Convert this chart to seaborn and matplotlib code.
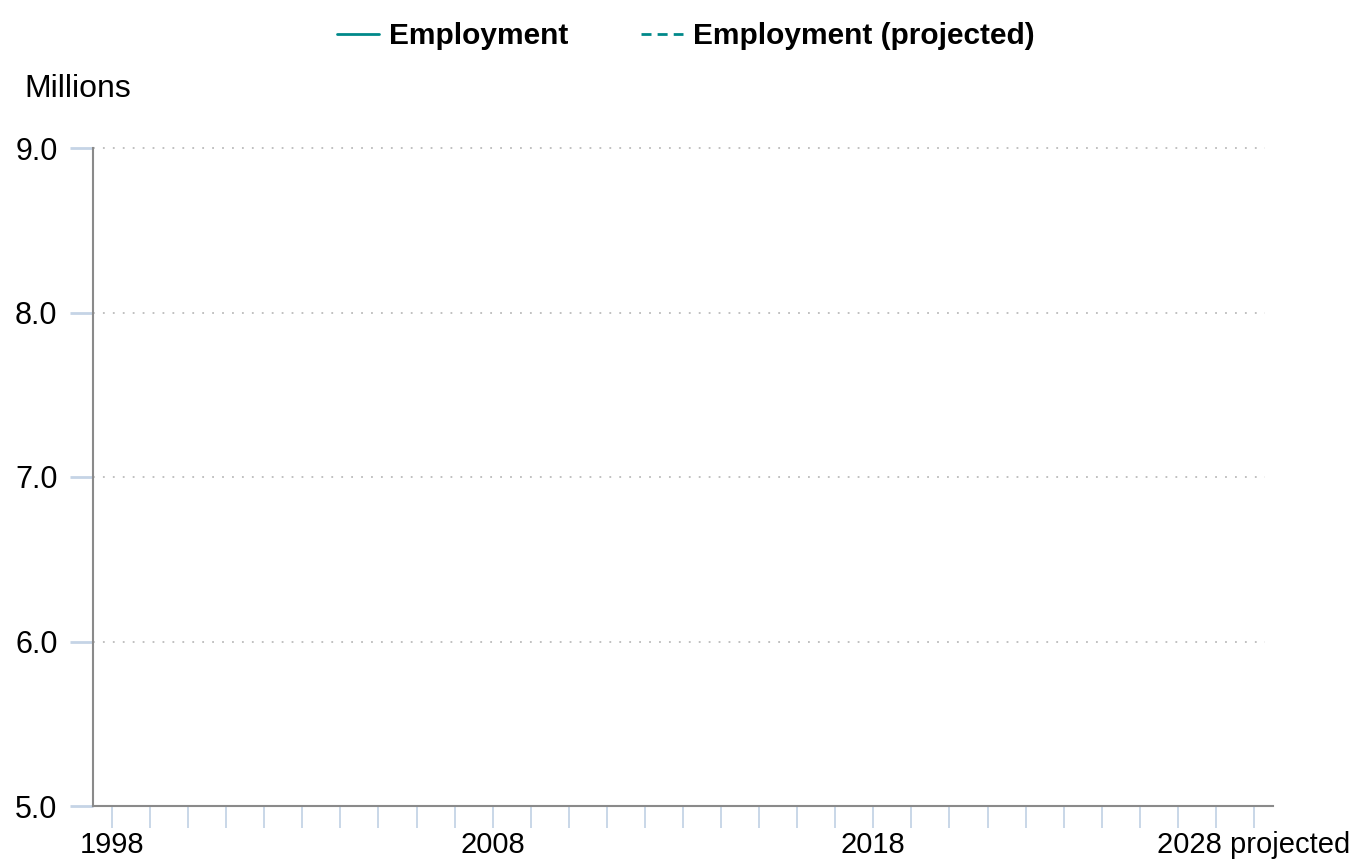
import numpy as np
import pandas as pd
import matplotlib
matplotlib.use("Agg")
import matplotlib.pyplot as plt
from matplotlib.lines import Line2D
import seaborn as sns

# ---- data (no values are visible in the source chart) ----
hist_years = [1998, 2008, 2018]
hist_employment = [np.nan, np.nan, np.nan]
proj_years = [2018, 2028]
proj_employment = [np.nan, np.nan]

tick_years = list(range(1998, 2029))
label_years = {1998: "1998", 2008: "2008", 2018: "2018", 2028: "2028 projected"}
y_ticks = [5.0, 6.0, 7.0, 8.0, 9.0]

TEAL = "#00898a"
TICK_BLUE = "#c5d4e6"
SPINE = "#8a8a8a"
DASH = (0, (3.6, 2.2))

sns.set_style("white")
plt.rcParams["font.family"] = ["Liberation Sans", "DejaVu Sans"]
plt.rcParams["text.color"] = "black"
plt.rcParams["xtick.labelcolor"] = "black"
plt.rcParams["ytick.labelcolor"] = "black"

fig = plt.figure(figsize=(13.5, 8.59), dpi=100)
ax = fig.add_axes([93 / 1350, 1 - 806 / 859, (1273 - 93) / 1350, (806 - 148) / 859])

df_hist = pd.DataFrame({"year": hist_years, "value": hist_employment})
df_proj = pd.DataFrame({"year": proj_years, "value": proj_employment})
sns.lineplot(data=df_hist, x="year", y="value", ax=ax, color=TEAL, linewidth=2.5)
sns.lineplot(data=df_proj, x="year", y="value", ax=ax, color=TEAL, linewidth=2.5,
             linestyle=DASH)

ax.set_xlim(1997.5, 2028.5)
ax.set_ylim(5.0, 9.0)
ax.set_xlabel("")
ax.set_ylabel("")

ax.set_xticks(tick_years)
ax.set_xticklabels([label_years.get(y, "") for y in tick_years], fontsize=21)
ax.set_yticks(y_ticks)
ax.set_yticklabels([f"{v:.1f}" for v in y_ticks], fontsize=22)

ax.tick_params(axis="x", length=16, width=1.3, color=TICK_BLUE, pad=2, direction="out",
               bottom=True)
ax.tick_params(axis="y", length=16.5, width=2, color=TICK_BLUE, pad=9, direction="out",
               left=True)

for side in ["top", "right"]:
    ax.spines[side].set_visible(False)
for side in ["left", "bottom"]:
    ax.spines[side].set_color(SPINE)
    ax.spines[side].set_linewidth(1.5)

for v in y_ticks[1:]:
    ax.plot([1997.5, 2028.3], [v, v], color="#bbbbbb", linewidth=1.3,
            linestyle=(0, (1, 4.5)), zorder=0, clip_on=False)

fig.text(24 / 1350, 1 - 89 / 859, "Millions", fontsize=23, va="center", ha="left")

handles = [
    Line2D([0], [0], color=TEAL, linewidth=2),
    Line2D([0], [0], color=TEAL, linewidth=2, linestyle=DASH),
]
fig.legend(handles, ["Employment", "Employment (projected)"], loc="center",
           bbox_to_anchor=(686 / 1350, 1 - 36 / 859), ncol=2, frameon=False,
           prop={"weight": "bold", "size": 21.5}, handlelength=1.4,
           handletextpad=0.33, columnspacing=2.45)

fig.savefig("out.png", dpi=100)
